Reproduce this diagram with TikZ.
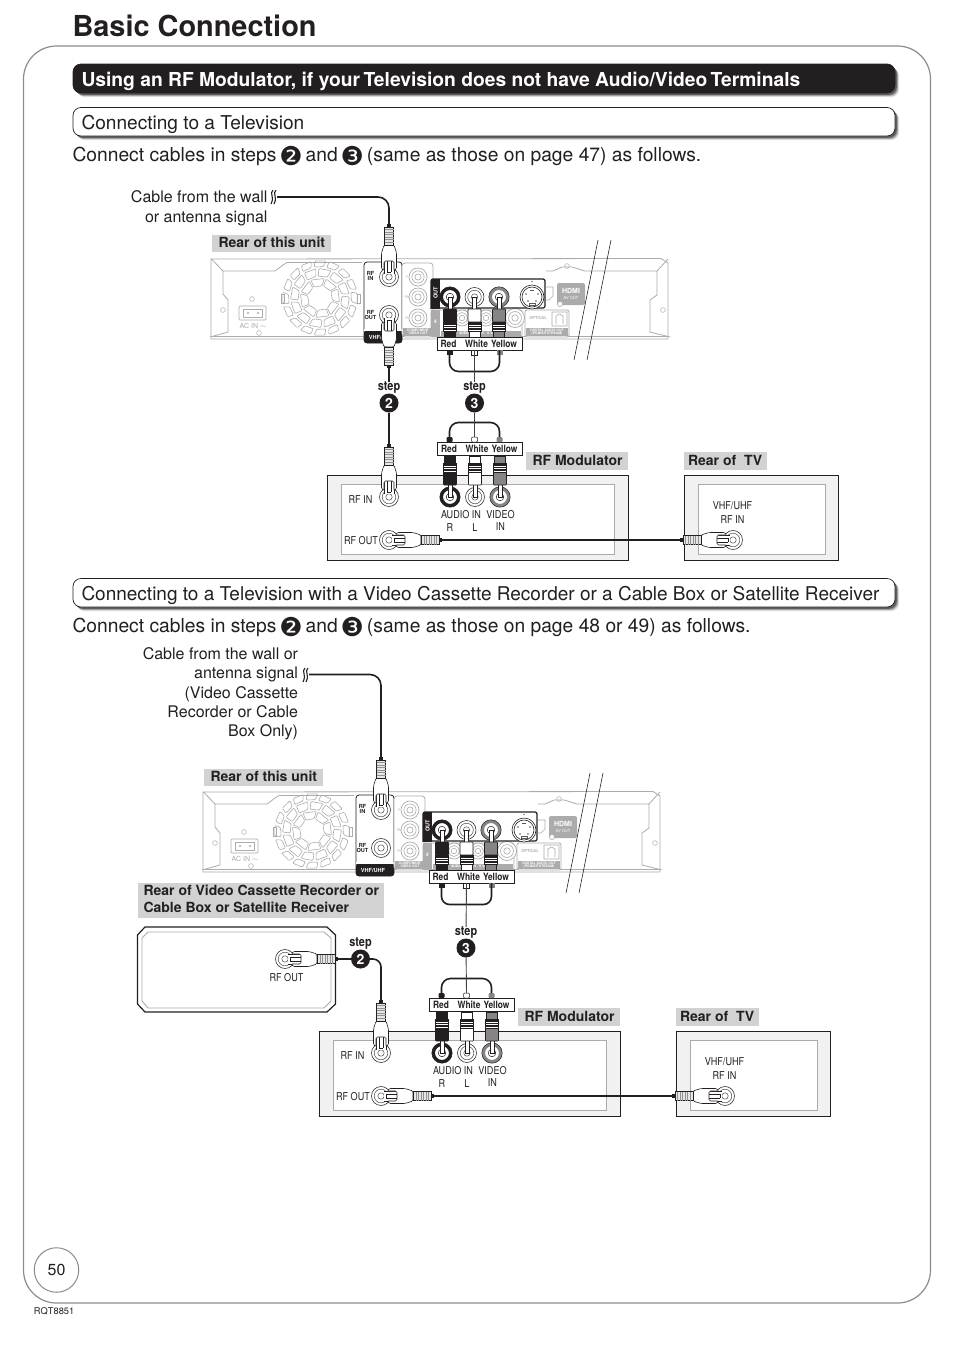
\documentclass[tikz,border=0pt]{standalone}
\usepackage{fontspec}
\setmainfont{TeX Gyre Heros}
\newfontfamily\cn[FakeStretch=0.84]{TeX Gyre Heros}
\newfontfamily\dv{DejaVu Sans}
\definecolor{ink}{HTML}{231F20}
\definecolor{lg}{HTML}{ABABAB}
\definecolor{lab}{HTML}{D2D2D2}
\definecolor{frame}{HTML}{8C8C8C}
\definecolor{modfill}{HTML}{F1F1F1}
\newcounter{tn}
\newcommand\fs[1]{\fontsize{#1}{#1}\selectfont}
\newcommand\dig[1]{\makebox[18.5pt]{\raisebox{-4pt}{\dv\fs{26}#1}}}
% text node with automatic name: [options]{x}{y}{text}
\newcommand\tx[4][]{\stepcounter{tn}\node[lbl,#1] (t\arabic{tn}) at (#2,#3) {#4};}
\tikzset{
  lbl/.style={inner sep=0pt,outer sep=0pt,text=ink,align=center},
  wire/.style={draw=ink,line width=1.6pt},
  thinwire/.style={draw=ink!85,line width=.9pt},
  unitline/.style={draw=lg,line width=.8pt},
  stepdot/.style={circle,fill=ink,text=white,inner sep=0pt,minimum size=19pt,font=\bfseries\fs{14}},
  steptext/.style={lbl,font=\cn\bfseries\fs{13},yshift=-1.6pt},
  small/.style={lbl,font=\cn\fs{10.8},yshift=-.8pt},
  tiny/.style={lbl,text=lg,font=\fs{3.6}},
  tinyw/.style={lbl,text=white,font=\bfseries\fs{3.4}},
}
% ---- shadowed bar
\newcommand\shadowbar[5]{% x1 y1 x2 y2 fill
  \foreach \o/\p in {4.2/.10,3.4/.16,2.6/.25,1.8/.35}{
    \fill[black,opacity=\p,rounded corners=8pt] (#1+\o,#2+\o) rectangle (#3+\o,#4+\o);}
  \draw[ink,line width=.7pt,fill=#5,rounded corners=8pt] (#1,#2) rectangle (#3,#4);}
% ---- jacks
\newcommand\jackplain[2]{\draw[ink,line width=.55pt,fill=white] (#1,#2) circle[radius=9.5pt];
  \draw[ink!80,line width=.5pt] (#1,#2) circle[radius=6.8pt] (#1,#2) circle[radius=3.2pt];}
\newcommand\jackthick[3]{\draw[#3,line width=3.2pt,fill=white] (#1,#2) circle[radius=8.6pt];
  \draw[ink,line width=.5pt] (#1,#2) circle[radius=10.2pt] (#1,#2) circle[radius=3.8pt];}
\newcommand\jackgrey[3][9]{\draw[lg,line width=.7pt,fill=white] (#2,#3) circle[radius=#1pt];
  \draw[lg,line width=.6pt] (#2,#3) circle[radius=#1pt*.68] (#2,#3) circle[radius=#1pt*.34];}
% ---- screw-type plug: jack centre, angle (0 = plug goes up from jack), wire-end name
\newcommand\rfplug[4]{\begin{scope}[shift={(#1,#2)},rotate=#3]
  \draw[ink,line width=.6pt,fill=white] (-5,-3)--(-5,-20)--(5,-20)--(5,-3);
  \draw[ink,line width=.5pt] (-2,-5)--(-2,-19) (2,-5)--(2,-19) (-2,-5)--(2,-5);
  \draw[ink,line width=.6pt,fill=white,rounded corners=1.5pt] (-7.5,-8)--(-7.5,-24)--(-5,-32)--(5,-32)--(7.5,-24)--(7.5,-8)--(5,-6)--(5,-16)--(-5,-16)--(-5,-6)--cycle;
  \draw[ink,line width=.6pt,fill=white!70!lg] (-4.5,-32) rectangle (4.5,-50);
  \foreach \q in {-35,-37.5,...,-48}{\draw[ink!50,line width=.45pt] (-4.5,\q)--(4.5,\q);}
  \fill[ink] (-2,-50) rectangle (2,-53);
  \coordinate (#4) at (0,-53);
\end{scope}}
% ---- RCA plug: jack centre, dir (0 up, 180 down), body colour
\newcommand\rca[4]{\begin{scope}[shift={(#1,#2)},rotate=#3]
  \draw[ink,line width=.5pt,fill=white] (-2,0) rectangle (2,-13);
  \draw[ink,line width=.6pt,fill=#4,rounded corners=.8pt] (-6.5,-12) rectangle (6.5,-25);
  \draw[ink,line width=.6pt,fill=white] (-6.5,-25) rectangle (6.5,-34);
  \foreach \q in {-27,-29.5,-32}{\fill[ink] (-6.5,\q-.8) rectangle (6.5,\q+.8);}
  \draw[ink,line width=.6pt,fill=#4] (-5.5,-34) rectangle (5.5,-41);
\end{scope}}
% ---- colour label box
\newcommand\rwy[2]{\draw[ink,line width=.9pt,fill=white] (#1,#2) rectangle (#1+85,#2+13);
  \tx[font=\cn\bfseries\fs{10}]{#1+11.5}{#2+6.7}{Red}
  \tx[font=\cn\bfseries\fs{10}]{#1+39.5}{#2+6.7}{White}
  \tx[font=\cn\bfseries\fs{10}]{#1+67}{#2+6.7}{Yellow}}
% ---- squiggle
\newcommand\squig[2]{\draw[ink,line width=1.1pt] (#1+1,#2-7) .. controls (#1-3,#2-3) and (#1+3,#2-1) .. (#1-1,#2+7)
  (#1+4,#2-7) .. controls (#1,#2-3) and (#1+6,#2-1) .. (#1+2,#2+7);}
% ---- rear of unit, drawn at the coordinates of the first one
\newcommand\rearunit{%
  \draw[unitline,fill=white] (211,259) -- (661,258.5) -- (668,263) -- (668,339) -- (211,339) -- cycle;
  \draw[unitline] (211.5,259)--(223,271)--(223,294)--(228,300)--(228,332)--(212,336.5)--(668,336.5)--(650,332)
    (668,259)--(657,271)--(657,295)--(650,300)--(650,332)
    (223,271)--(275,271)--(283,265)--(287,262.5)--(362,262.5)
    (657,271)--(585,271)--(572,267)--(562,267)--(553,271)--(546,271);
  % fan
  \begin{scope}[shift={(320,298)}]
    \foreach \a/\b/\n in {12.5/20/8,22/29.5/12,31.5/37.5/16}{
      \pgfmathsetmacro\st{360/\n}
      \foreach \k in {1,...,\n}{
        \pgfmathsetmacro\A{\k*\st+1.0*\a+3}\pgfmathsetmacro\B{(\k+1)*\st+1.0*\a-3}
        \draw[lg,line width=.6pt,rounded corners=1pt] (\A:\a)--(\A+3:\b)--(\B+3:\b)--(\B:\a)--cycle;}}
  \end{scope}
  \draw[lg,line width=.6pt] (281,294) rectangle (284,303) (357,294) rectangle (360,303);
  % AC inlet
  \draw[lg,line width=.7pt,rounded corners=1pt] (239,306) rectangle (266,320);
  \draw[lg,line width=.5pt] (243,309) -- (262,309) -- (262,317) -- (243,317) -- cycle;
  \draw[lg,line width=.5pt] (248,313) circle[radius=.7pt] (258,313) circle[radius=.7pt]
     (252,299) circle[radius=2.4pt] (259,333) circle[radius=2.4pt] (223,310) circle[radius=2.4pt]
     (663,310) circle[radius=2.4pt] (567,266) circle[radius=2.4pt];
  \tx[font=\fs{7},text=lg]{253}{326}{AC IN $\sim$}
  % VHF panel
  \draw[ink,line width=.8pt,fill=white,rounded corners=3pt] (364,262) rectangle (402,343);
  \fill[ink,rounded corners=3pt] (364,330) rectangle (402,343);
  \fill[white] (364,329) rectangle (402,331);
  \tx[text=white,font=\bfseries\fs{5.6}]{381}{337}{VHF/UHF}
  \tx[font=\bfseries\fs{5.6}]{370.5}{276}{RF\\[-.5pt]IN}
  \tx[font=\bfseries\fs{5.6}]{370.5}{315}{RF\\[-.5pt]OUT}
  \jackplain{389}{277}
  \jackplain{389}{315}
  % component panel
  \draw[lg,line width=.8pt,fill=white,rounded corners=3pt] (402,263) rectangle (433,337);
  \jackgrey{418}{277}\jackgrey{418}{297}\jackgrey{418}{318}
  \tx[font=\fs{3.6},text=lg]{407}{277}{Y}\tx[font=\fs{3.6},text=lg]{407}{297}{P\kern-.05em b}\tx[font=\fs{3.6},text=lg]{407}{318}{P\kern-.05em r}
  \fill[lg] (403,328) rectangle (432,336);
  \tx[tinyw]{418}{332}{COMPONENT\\[-.6pt]VIDEO OUT}
  % IN row
  \draw[lg,line width=.8pt,rounded corners=2pt] (431,310) rectangle (522,337);
  \fill[lg] (431,310) rectangle (440,337);
  \tx[tinyw,rotate=90]{435.5}{322}{IN}
  \jackgrey[8]{462}{318}\jackgrey[8]{486}{318}\jackgrey[9.5]{515}{318}
  \fill[lg] (441,331) rectangle (521,336);
  \tx[tinyw]{480}{333.5}{AUDIO~~~~VIDEO~~~S VIDEO}
  % optical panel
  \draw[lg,line width=.8pt,fill=white,rounded corners=2pt] (525,310) rectangle (569,337);
  \tx[tiny,font=\bfseries\fs{4}]{538}{318}{OPTICAL}
  \draw[lg,line width=.6pt] (552,312) rectangle (567,326) (556,324)--(556,316)--(559.5,314)--(563,316)--(563,324);
  \fill[lg] (526,328) rectangle (568,336);
  \tx[tinyw]{547}{332}{DIGITAL AUDIO OUT\\[-.6pt](PCM/BITSTREAM)}
  % HDMI
  \fill[lg,rounded corners=2pt] (557,283) rectangle (585,305);
  \tx[text=white,font=\bfseries\fs{7}]{571}{291}{HDMI}
  \tx[tinyw,font=\fs{4}]{571}{298}{AV OUT}
  \draw[lg,line width=.6pt] (546,287)--(553,287)--(553,296)--(549,300)--(546,300);
  \draw[lg,line width=.6pt,fill=white] (560,304) circle[radius=2.6pt];
  % OUT panel
  \draw[ink,line width=1.2pt,fill=white,rounded corners=2pt] (431,309) -- (431,279) -- (545,279) -- (545,308) -- (440,308);
  \fill[ink] (431,279) rectangle (440,309);
  \tx[text=white,font=\bfseries\fs{5.6},rotate=90]{435.5}{293}{OUT}
  \jackthick{450}{297}{ink}
  \jackplain{474.5}{297}
  \jackthick{499}{297}{ink!55}
  \draw[ink,line width=.6pt,fill=white] (532,297) circle[radius=12pt] (532,297) circle[radius=10pt];
  \fill[ink!75] (526,294) circle[radius=.9pt] (538,294) circle[radius=.9pt] (528,301) circle[radius=.9pt] (536,301) circle[radius=.9pt];
  \draw[ink!75,line width=.7pt] (529,305) rectangle (535,303) (530,290)--(534,290);
  \fill[ink] (532,281.5) circle[radius=.6pt];
  % break marks
  \draw[ink,line width=.6pt] (598,240)--(574,360) (611,240)--(587,360);
}
\begin{document}
\begin{tikzpicture}[x=1pt,y=-1pt,line cap=butt]
\useasboundingbox (0,0) rectangle (954,1350);
\fill[white] (0,0) rectangle (954,1350);
% page frame
\draw[frame,line width=1.2pt,rounded corners=33pt] (23.5,46) rectangle (930.5,1303);
\node[lbl,anchor=base west,font=\bfseries\fs{28.9}] (title) at (72.5,36.5) {Basic Connection};
% headings
\shadowbar{73}{64}{895}{93}{ink}
\node[lbl,anchor=base west,text=white,font=\bfseries\fs{19.25}] (h1) at (81.5,86) {Using an RF Modulator, if your\kern-.1em\ Television does not have Audio/Video\kern-.1em\ Terminals};
\shadowbar{73}{107.5}{895}{136}{white}
\node[lbl,anchor=base west,font=\fs{19.1}] (h2) at (81.5,129.5) {Connecting to a Television};
\node[lbl,anchor=base west,font=\fs{19.25}] (l1) at (72.5,161) {Connect cables in steps \dig{❷} and \dig{❸} (same as those on page 47) as follows.};
\shadowbar{73}{578.5}{895}{607}{white}
\node[lbl,anchor=base west,font=\fs{19}] (h3) at (81.5,600) {Connecting to a Television with a Video Cassette Recorder or a Cable Box or Satellite Receiver};
\node[lbl,anchor=base west,font=\fs{19.25}] (l2) at (72.5,632) {Connect cables in steps \dig{❷} and \dig{❸} (same as those on page 48 or 49) as follows.};
% ============ first diagram
\node[lbl,anchor=base east,font=\fs{16}] (ca1) at (267.5,202) {Cable from the wall};
\node[lbl,anchor=base east,font=\fs{16}] (ca2) at (267.5,222) {or antenna signal};
\fill[lab] (212,235) rectangle (331,252);
\node[lbl,anchor=base west,font=\bfseries\fs{14}] (ru1) at (218.5,247) {Rear of this unit};
\rearunit
\squig{272}{197}
\coordinate (sqa) at (277,197);
\rfplug{389}{277}{0}{pa}
\draw[wire,rounded corners=11pt] (sqa) -- (389,197) -- (pa);
\rfplug{389}{315}{180}{pb}
\rca{450}{297}{180}{ink}
\rca{474.5}{297}{180}{white}
\rca{499}{297}{180}{ink!55}
\rwy{437}{337}
\coordinate (ua) at (449.5,350);
\coordinate (ub) at (474.5,350);
\coordinate (uc) at (499.5,350);
\fill[ink] (446.5,350) rectangle (452.5,355);
\draw[ink,fill=white,line width=.5pt] (471.5,350) rectangle (477.5,355);
\fill[ink!55] (496.5,350) rectangle (502.5,355);
\node[stepdot] (s2a) at (389,403) {2};
\node[stepdot] (s3a) at (474.5,403) {3};
\node[steptext] (st2a) at (389,386) {step};
\node[steptext] (st3a) at (474.5,386) {step};
\draw[wire] (pb) -- (st2a);
\draw[wire,rounded corners=9pt] (ua) -- (449.5,371.5) -- (499.5,371.5) -- (uc);
\draw[thinwire] (ub) -- (st3a);
% modulator
\draw[ink,line width=1.2pt,fill=modfill] (327.5,475.5) rectangle (628.5,560.5);
\draw[lg,line width=.9pt,fill=white] (341,484) rectangle (614,554);
\draw[ink,line width=1.2pt,fill=modfill] (684.5,475.5) rectangle (838.5,560.5);
\draw[lg,line width=.9pt,fill=white] (698,484) rectangle (825,554);
\fill[lab] (526,452) rectangle (628,470);
\node[lbl,anchor=base west,font=\bfseries\fs{14}] (rm1) at (532.5,465) {RF Modulator};
\fill[lab] (684,452) rectangle (767,470);
\node[lbl,anchor=base west,font=\bfseries\fs{14}] (rt1) at (688,465) {Rear of\ \ TV};
\jackplain{389}{497}
\jackthick{450}{497}{ink}
\jackplain{475}{497}
\jackthick{500}{497}{ink!55}
\jackplain{389}{540}
\jackplain{733}{540}
\rfplug{389}{497}{0}{pc}
\rca{450}{497}{0}{ink}
\rca{475}{497}{0}{white}
\rca{500}{497}{0}{ink!55}
\rwy{437.5}{442}
\fill[ink,rounded corners=1pt] (446.5,437) rectangle (452.5,442);
\draw[ink,fill=white,line width=.5pt,rounded corners=1pt] (471.5,437) rectangle (477.5,442);
\fill[ink!55,rounded corners=1pt] (496.5,437) rectangle (502.5,442);
\coordinate (ud) at (449.5,437);
\coordinate (ue) at (474.5,437);
\coordinate (uf) at (499.5,437);
\draw[wire] (s2a) -- (pc);
\draw[wire,rounded corners=9pt] (ud) -- (449.5,422.5) -- (499.5,422.5) -- (uf);
\draw[thinwire] (s3a) -- (ue);
\rfplug{389}{540}{-90}{pd}
\rfplug{733}{540}{90}{pe}
\draw[wire] (pd) -- (pe);
\tx[small]{360.5}{499}{RF IN}
\tx[small]{361}{540}{RF OUT}
\tx[small]{461}{514}{AUDIO IN}
\tx[small]{450}{527}{R}
\tx[small]{475}{527}{L}
\tx[small]{500.5}{514}{VIDEO}
\tx[small]{500.5}{526}{IN}
\tx[small]{732.5}{505}{VHF/UHF}
\tx[small]{732.5}{519}{RF IN}
% ============ second diagram
\node[lbl,anchor=base east,font=\fs{16}] (cb1) at (298,659.5) {Cable from the wall or};
\node[lbl,anchor=base east,font=\fs{16}] (cb2) at (298,678.5) {antenna signal};
\node[lbl,anchor=base east,font=\fs{16}] (cb3) at (298,698) {(Video Cassette};
\node[lbl,anchor=base east,font=\fs{16}] (cb4) at (298,717) {Recorder or Cable};
\node[lbl,anchor=base east,font=\fs{16}] (cb5) at (298,736) {Box Only)};
\fill[lab] (204,768.5) rectangle (323,785.5);
\node[lbl,anchor=base west,font=\bfseries\fs{14}] (ru2) at (210.5,781) {Rear of this unit};
\begin{scope}[shift={(-8,533)}]
\rearunit
\rfplug{389}{277}{0}{qa}
\rca{450}{297}{180}{ink}
\rca{474.5}{297}{180}{white}
\rca{499}{297}{180}{ink!55}
\rwy{437}{337}
\fill[ink] (446.5,350) rectangle (452.5,355);
\draw[ink,fill=white,line width=.5pt] (471.5,350) rectangle (477.5,355);
\fill[ink!55] (496.5,350) rectangle (502.5,355);
\coordinate (va) at (449.5,350);
\coordinate (vb) at (474.5,350);
\coordinate (vc) at (499.5,350);
\end{scope}
\squig{304}{675}
\coordinate (sqb) at (309,674.5);
\draw[wire,rounded corners=11pt] (sqb) -- (381,674.5) -- (qa);
\fill[lab] (138,883) rectangle (384,918);
\node[lbl,anchor=base west,font=\bfseries\fs{14}] (rv1) at (143.5,895) {Rear of Video Cassette Recorder or};
\node[lbl,anchor=base west,font=\bfseries\fs{14}] (rv2) at (143.5,912) {Cable Box or Satellite Receiver};
% VCR box
\draw[ink,line width=1.2pt,fill=white] (145,927)--(327,927)--(335.5,935)--(335.5,1004)--(327,1012)--(145,1012)--(137.5,1004)--(137.5,935)--cycle;
\draw[lg,line width=.9pt] (148,932)--(324,932)--(331,938)--(331,1001)--(324,1008)--(148,1008)--(142,1001)--(142,938)--cycle;
\jackplain{285}{959}
\rfplug{285}{959}{-90}{qb}
\tx[small]{286.5}{976.5}{RF OUT}
\node[stepdot] (s2b) at (360.5,959) {2};
\node[steptext] (st2b) at (360.5,942) {step};
\node[stepdot] (s3b) at (466,948) {3};
\node[steptext] (st3b) at (466,931) {step};
\draw[wire] (qb) -- (s2b);
\draw[wire,rounded corners=8pt] (va) -- (441.5,904.5) -- (491.5,904.5) -- (vc);
\draw[thinwire] (vb) -- (st3b);
% modulator 2
\draw[ink,line width=1.2pt,fill=modfill] (319.5,1031.5) rectangle (620.5,1116.5);
\draw[lg,line width=.9pt,fill=white] (333,1040) rectangle (606,1110);
\draw[ink,line width=1.2pt,fill=modfill] (676.5,1031.5) rectangle (830.5,1116.5);
\draw[lg,line width=.9pt,fill=white] (690,1040) rectangle (817,1110);
\fill[lab] (518,1008) rectangle (620,1026);
\node[lbl,anchor=base west,font=\bfseries\fs{14}] (rm2) at (524.5,1021) {RF Modulator};
\fill[lab] (676,1008) rectangle (759,1026);
\node[lbl,anchor=base west,font=\bfseries\fs{14}] (rt2) at (680,1021) {Rear of\ \ TV};
\jackplain{381}{1053}
\jackthick{442}{1053}{ink}
\jackplain{467}{1053}
\jackthick{492}{1053}{ink!55}
\jackplain{381}{1096}
\jackplain{725}{1096}
\rfplug{381}{1053}{0}{qc}
\rca{442}{1053}{0}{ink}
\rca{467}{1053}{0}{white}
\rca{492}{1053}{0}{ink!55}
\rwy{429.5}{998}
\fill[ink,rounded corners=1pt] (438.5,993) rectangle (444.5,998);
\draw[ink,fill=white,line width=.5pt,rounded corners=1pt] (463.5,993) rectangle (469.5,998);
\fill[ink!55,rounded corners=1pt] (488.5,993) rectangle (494.5,998);
\coordinate (vd) at (441.5,993);
\coordinate (ve) at (466.5,993);
\coordinate (vf) at (491.5,993);
\draw[wire,rounded corners=8pt] (s2b) -- (381,959) -- (qc);
\draw[wire,rounded corners=9pt] (vd) -- (441.5,978.5) -- (491.5,978.5) -- (vf);
\draw[thinwire] (s3b) -- (ve);
\rfplug{381}{1096}{-90}{qd}
\rfplug{725}{1096}{90}{qe}
\draw[wire] (qd) -- (qe);
\tx[small]{352.5}{1055}{RF IN}
\tx[small]{353}{1096}{RF OUT}
\tx[small]{453}{1070}{AUDIO IN}
\tx[small]{442}{1083}{R}
\tx[small]{467}{1083}{L}
\tx[small]{492.5}{1070}{VIDEO}
\tx[small]{492.5}{1082}{IN}
\tx[small]{724.5}{1061}{VHF/UHF}
\tx[small]{724.5}{1075}{RF IN}
% footer
\node[circle,draw=frame,line width=1pt,minimum size=44.5pt,inner sep=0pt,text=ink,font=\fs{16}] (pg) at (56.5,1270) {50};
\node[lbl,anchor=base west,font=\fs{9.3}] (rq) at (34,1314.5) {RQT8851};
\end{tikzpicture}
\end{document}
